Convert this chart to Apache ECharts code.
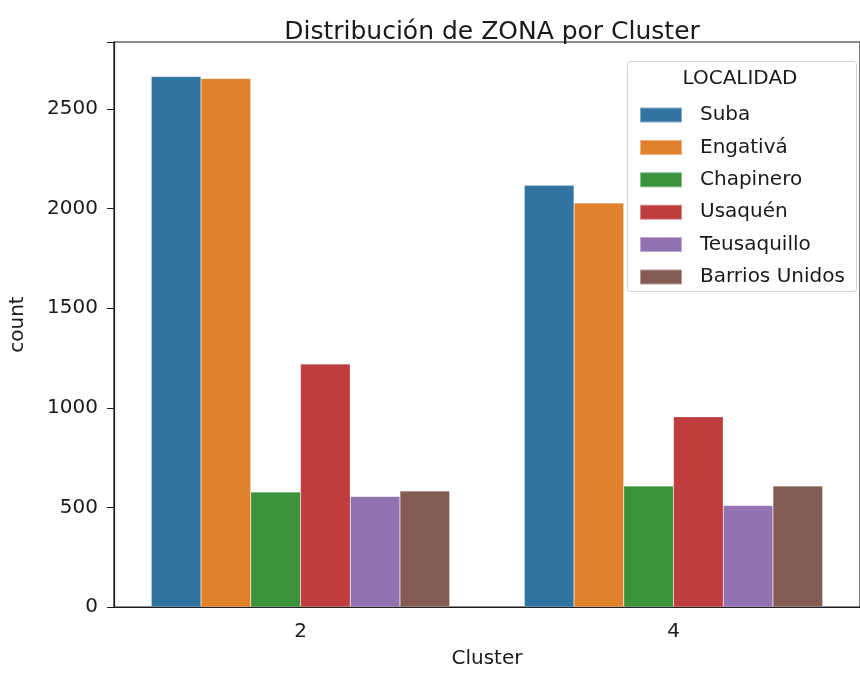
<!DOCTYPE html>
<html><head><meta charset="utf-8">
<script src="https://cdn.jsdelivr.net/npm/echarts@6/dist/echarts.min.js"></script>
<style>html,body{margin:0;padding:0;background:#fff}#c{width:860px;height:674px}</style>
</head><body><div id="c"></div>
<script>
const categories = ['2', '4'];
const localidades = ['Suba', 'Engativá', 'Chapinero', 'Usaquén', 'Teusaquillo', 'Barrios Unidos'];
const suba = [2664, 2118];
const engativa = [2654, 2029];
const chapinero = [578, 608];
const usaquen = [1220, 955];
const teusaquillo = [555, 510];
const barriosUnidos = [583, 608];
const yTicks = [0, 500, 1000, 1500, 2000, 2500];
const colors = ['#3274a1', '#e1812c', '#3a923a', '#c03d3e', '#9372b2', '#845b53'];
const values = [suba, engativa, chapinero, usaquen, teusaquillo, barriosUnidos];
const font = 'DejaVu Sans';
const ink = '#1a1a1a';
const chart = echarts.init(document.getElementById('c'), null, {renderer: 'canvas'});
chart.setOption({
  animation: false,
  textStyle: {fontFamily: font},
  title: {text: 'Distribución de ZONA por Cluster', left: 487, top: 15, textAlign: 'center',
    textStyle: {fontFamily: font, fontSize: 25, fontWeight: 'normal', color: ink}},
  grid: {left: 110, right: -5, top: 42, bottom: 61, show: true, borderColor: ink, borderWidth: 1.2, backgroundColor: 'transparent'},
  legend: {
    orient: 'vertical', left: 634, top: 100, itemWidth: 42, itemHeight: 15, itemGap: 12.4,
    icon: 'rect', data: localidades, z: 10,
    textStyle: {fontFamily: font, fontSize: 20, lineHeight: 20, color: ink, padding: [0, 0, 0, 13]}
  },
  graphic: [
    {type: 'rect', shape: {x: 627.5, y: 61.5, width: 229, height: 230, r: 3}, z: 5,
      style: {fill: 'rgba(255,255,255,0.8)', stroke: '#d0d0d0', lineWidth: 1}},
    {type: 'text', x: 740, y: 79, z: 6, style: {text: 'LOCALIDAD', font: '20px "DejaVu Sans"', fill: ink, textAlign: 'center', textVerticalAlign: 'middle'}}
  ],
  xAxis: {
    type: 'category', data: categories, name: 'Cluster', nameLocation: 'middle', nameGap: 42,
    nameTextStyle: {fontFamily: font, fontSize: 20, color: ink},
    axisLine: {lineStyle: {color: ink, width: 1.2}},
    axisTick: {alignWithLabel: true, length: 7, lineStyle: {color: ink}},
    axisLabel: {fontFamily: font, fontSize: 20, color: ink, margin: 15}
  },
  yAxis: {
    type: 'value', min: 0, max: 2837, interval: 500, name: 'count', nameLocation: 'middle', nameGap: 86,
    nameTextStyle: {fontFamily: font, fontSize: 20, color: ink},
    axisLine: {show: true, lineStyle: {color: ink, width: 1.2}},
    axisTick: {show: true, length: 7, lineStyle: {color: ink}},
    splitLine: {show: false},
    axisLabel: {fontFamily: font, fontSize: 20, color: ink, margin: 16,
      formatter: v => yTicks.includes(v) ? String(v) : ''}
  },
  series: localidades.map((name, i) => ({
    name, type: 'bar', data: values[i], barGap: '0%', barCategoryGap: '20%', z: 2,
    itemStyle: {color: colors[i], borderColor: 'rgba(255,255,255,0.4)', borderWidth: 0.5}
  }))
});
</script></body></html>
